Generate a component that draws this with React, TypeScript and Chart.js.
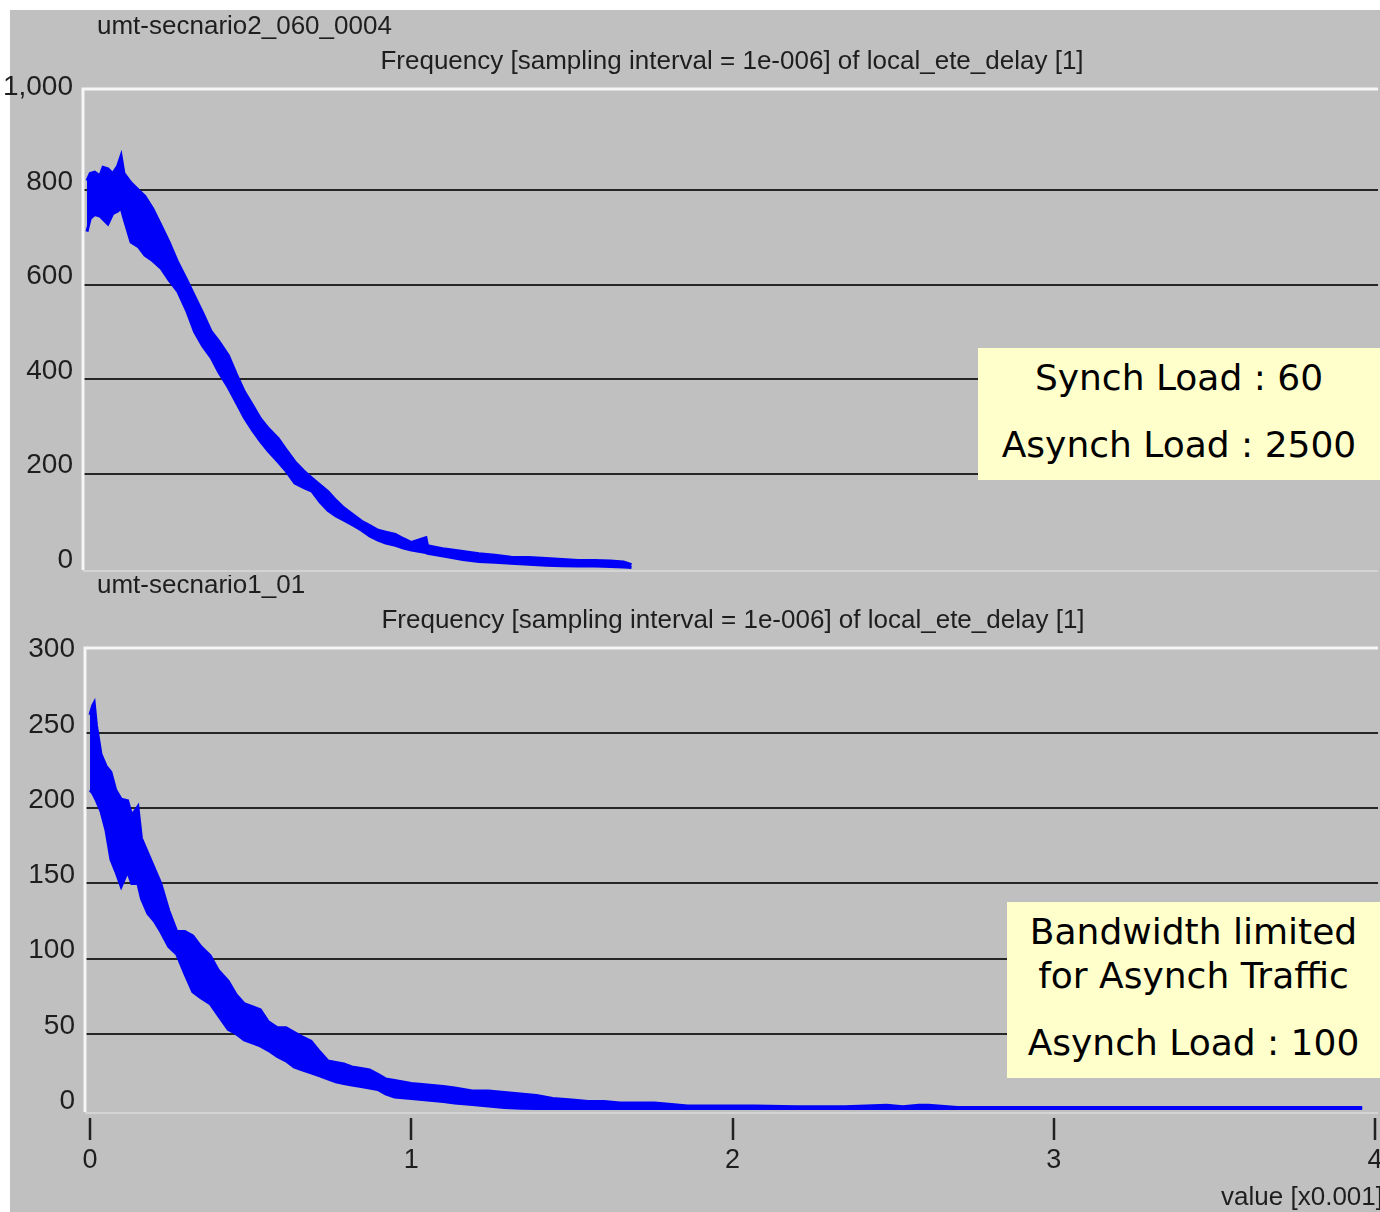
import React, { useEffect, useRef } from 'react';
import { Chart, registerables } from 'chart.js';

Chart.register(...registerables);

// ---- texts ----
const topTitle = 'umt-secnario2_060_0004';
const bottomTitle = 'umt-secnario1_01';
const subtitleText = 'Frequency [sampling interval = 1e-006] of local_ete_delay [1]';
const xAxisLabel = 'value [x0.001]';
const topNote = ['Synch Load : 60', 'Asynch Load : 2500'];
const bottomNote = ['Bandwidth limited', 'for Asynch Traffic', 'Asynch Load : 100'];

// ---- tick labels ----
const topYTicks = [0, 200, 400, 600, 800, 1000];
const bottomYTicks = [0, 50, 100, 150, 200, 250, 300];
const xTicks = [0, 1, 2, 3, 4];

// ---- top panel: envelope of the noisy frequency curve ----
const topX = [0, 0.01, 0.024, 0.04, 0.05, 0.065, 0.08, 0.095, 0.106, 0.115,
  0.137, 0.16, 0.18, 0.205, 0.231, 0.255, 0.283, 0.31, 0.335, 0.36,
  0.387, 0.41, 0.44, 0.465, 0.49, 0.515, 0.54, 0.565, 0.595, 0.62,
  0.647, 0.675, 0.7, 0.725, 0.75, 0.775, 0.8, 0.83, 0.855, 0.88,
  0.906, 0.93, 0.96, 0.985, 1.01, 1.055, 1.06, 1.114, 1.17, 1.22,
  1.27, 1.32, 1.375, 1.43, 1.48, 1.53, 1.58, 1.63, 1.67, 1.695];
const topUpper = [820, 835, 838, 830, 848, 845, 835, 850, 872, 835,
  815, 800, 787, 760, 724, 690, 646, 610, 575, 540,
  500, 480, 450, 410, 373, 345, 316, 295, 274, 250,
  225, 205, 190, 176, 162, 143, 127, 112, 99, 90,
  80, 76, 71, 62, 54, 64, 47, 40, 35, 30,
  27, 23, 22, 20, 18, 16, 16, 15, 13, 7];
const topLower = [712, 740, 748, 745, 738, 728, 750, 755, 762, 740,
  690, 680, 662, 650, 634, 610, 585, 545, 500, 470,
  445, 415, 382, 350, 318, 292, 268, 247, 225, 205,
  180, 170, 163, 140, 122, 110, 101, 90, 80, 68,
  59, 53, 48, 42, 38, 33, 31, 25, 18, 14,
  12, 10, 8, 6, 5, 4, 4, 3, 2, 1];

// ---- bottom panel ----
const bottomX = [0, 0.008, 0.013, 0.02, 0.034, 0.05, 0.065, 0.08, 0.097, 0.117,
  0.13, 0.149, 0.16, 0.18, 0.2, 0.22, 0.245, 0.27, 0.295, 0.32,
  0.345, 0.374, 0.4, 0.43, 0.455, 0.48, 0.505, 0.53, 0.555, 0.583,
  0.61, 0.635, 0.66, 0.688, 0.715, 0.74, 0.765, 0.79, 0.815, 0.844,
  0.87, 0.896, 0.92, 0.948, 1.0, 1.05, 1.1, 1.135, 1.19, 1.24,
  1.29, 1.34, 1.39, 1.44, 1.5, 1.55, 1.6, 1.65, 1.7, 1.757,
  1.81, 1.86, 1.92, 1.966, 2.07, 2.2, 2.35, 2.48, 2.53, 2.58,
  2.61, 2.7, 3.0, 3.5, 3.96];
const bottomUpper = [262, 268, 270, 255, 236, 228, 224, 212, 206, 205,
  195, 201, 180, 170, 160, 150, 132, 118, 118, 115,
  108, 102, 92, 85, 76, 70, 68, 66, 58, 54,
  54, 51, 48, 45, 38, 32, 31, 30, 28, 27,
  26, 23, 20, 19, 17, 16, 15, 14, 12, 12,
  11, 10, 9, 7, 6, 5, 5, 4, 4, 4,
  3, 2, 2, 2, 2, 1.5, 1.5, 2.5, 1.5, 2.5,
  2.5, 1, 1, 1, 1];
const bottomLower = [212, 210, 208, 205, 198, 185, 166, 158, 148, 158,
  150, 150, 140, 130, 125, 118, 108, 103, 90, 78,
  74, 70, 62, 53, 50, 46, 44, 42, 39, 35,
  32, 28, 26, 24, 22, 20, 18, 17, 16, 15,
  14, 13, 10, 8, 7, 6, 5, 4, 3, 2,
  1, 0.5, 0.3, 0.3, 0.3, 0.3, 0.3, 0.3, 0.3, 0.3,
  0.3, 0.3, 0.3, 0.3, 0.3, 0.3, 0.3, 0.3, 0.3, 0.3,
  0.3, 0.3, 0.3, 0.3, 0.3];

const BLUE = '#0000f8';
const TEXT = '#1e1e1e';
const LABEL_FONT = '"Liberation Sans", Arial, sans-serif';

type PanelCfg = {
  left: number; top: number; width: number; height: number;
  xs: number[]; upper: number[]; lower: number[];
  xMin: number; xMax: number; yMin: number; yMax: number;
  yTicks: number[]; yWidth: number; padTop: number; padBottom: number;
  showX: boolean; title: string; titleX: number; titleY: number; subX: number; subY: number;
};

function makeDecor(cfg: PanelCfg) {
  return {
    id: 'decor',
    beforeDatasetsDraw(chart: any) {
      const { ctx, chartArea: a } = chart;
      ctx.save();
      ctx.strokeStyle = '#d4d4d4';
      ctx.lineWidth = 2;
      ctx.beginPath();
      ctx.moveTo(a.left, a.bottom + 1);
      ctx.lineTo(a.right, a.bottom + 1);
      ctx.stroke();
      ctx.strokeStyle = '#f6f6f6';
      ctx.lineWidth = 3;
      ctx.beginPath();
      ctx.moveTo(a.left, a.bottom);
      ctx.lineTo(a.left, a.top);
      ctx.lineTo(a.right, a.top);
      ctx.stroke();
      ctx.restore();
    },
    afterDraw(chart: any) {
      const { ctx } = chart;
      ctx.save();
      ctx.fillStyle = TEXT;
      ctx.textBaseline = 'middle';
      ctx.font = `26px ${LABEL_FONT}`;
      ctx.textAlign = 'left';
      ctx.fillText(cfg.title, cfg.titleX, cfg.titleY);
      ctx.textAlign = 'center';
      ctx.fillText(subtitleText, cfg.subX, cfg.subY);
      if (cfg.showX) {
        const xs = chart.scales.x;
        const a = chart.chartArea;
        ctx.strokeStyle = '#222';
        ctx.lineWidth = 2.5;
        for (const v of xTicks) {
          const px = Math.round(xs.getPixelForValue(v));
          ctx.beginPath();
          ctx.moveTo(px, a.bottom + 6);
          ctx.lineTo(px, a.bottom + 28);
          ctx.stroke();
        }
        ctx.textAlign = 'right';
        ctx.fillText(xAxisLabel, 1373, 623);
      }
      ctx.restore();
    },
  };
}

function Panel({ cfg }: { cfg: PanelCfg }) {
  const ref = useRef<HTMLCanvasElement | null>(null);
  useEffect(() => {
    if (!ref.current) return;
    const lo = cfg.yTicks[0];
    const hi = cfg.yTicks[cfg.yTicks.length - 1];
    const chart = new Chart(ref.current, {
      type: 'line',
      data: {
        datasets: [
          {
            data: cfg.xs.map((x, i) => ({ x, y: cfg.upper[i] })),
            borderColor: BLUE,
            backgroundColor: BLUE,
            borderWidth: 3,
            pointRadius: 0,
            tension: 0,
            fill: '+1',
          },
          {
            data: cfg.xs.map((x, i) => ({ x, y: cfg.lower[i] })),
            borderColor: BLUE,
            backgroundColor: BLUE,
            borderWidth: 3,
            pointRadius: 0,
            tension: 0,
            fill: false,
          },
        ],
      },
      options: {
        responsive: false,
        animation: false,
        layout: { padding: { top: cfg.padTop, right: 2, left: 0, bottom: cfg.padBottom } },
        plugins: {
          legend: { display: false },
          tooltip: { enabled: false },
          title: { display: false },
        },
        scales: {
          x: {
            type: 'linear',
            min: cfg.xMin,
            max: cfg.xMax,
            display: cfg.showX,
            grid: { display: false, drawTicks: false },
            border: { display: false },
            ticks: {
              autoSkip: false,
              maxRotation: 0,
              padding: 32,
              color: TEXT,
              font: { family: LABEL_FONT, size: 27 },
            },
            afterBuildTicks: (s: any) => { s.ticks = xTicks.map((v) => ({ value: v })); },
            afterFit: (s: any) => {
              s.height = cfg.showX ? 100 : 0;
              s.paddingLeft = 0; s.paddingRight = 0; s.paddingTop = 0; s.paddingBottom = 0;
            },
          },
          y: {
            type: 'linear',
            min: cfg.yMin,
            max: cfg.yMax,
            grid: {
              drawTicks: false,
              lineWidth: 2,
              color: (c: any) => {
                const v = c.tick ? c.tick.value : 0;
                return v > lo && v < hi ? '#262626' : 'rgba(0,0,0,0)';
              },
            },
            border: { display: false },
            ticks: {
              padding: 10,
              labelOffset: -8,
              color: TEXT,
              font: { family: LABEL_FONT, size: 28 },
              callback: (v: any) => Number(v).toLocaleString('en-US'),
            },
            afterBuildTicks: (s: any) => { s.ticks = cfg.yTicks.map((v) => ({ value: v })); },
            afterFit: (s: any) => { s.width = cfg.yWidth; s.paddingTop = 0; s.paddingBottom = 0; },
          },
        },
      },
      plugins: [makeDecor(cfg)],
    } as any);
    return () => chart.destroy();
  }, [cfg]);
  return (
    <canvas
      ref={ref}
      width={cfg.width}
      height={cfg.height}
      style={{ position: 'absolute', left: cfg.left, top: cfg.top, width: cfg.width, height: cfg.height }}
    />
  );
}

const topCfg: PanelCfg = {
  left: 0, top: 10, width: 1380, height: 565,
  xs: topX, upper: topUpper, lower: topLower,
  xMin: -0.0125, xMax: 4.019, yMin: -4, yMax: 1013.8,
  yTicks: topYTicks, yWidth: 83, padTop: 79, padBottom: 5.1,
  showX: false, title: topTitle, titleX: 97, titleY: 17, subX: 732, subY: 52,
};

const bottomCfg: PanelCfg = {
  left: 10, top: 575, width: 1370, height: 637,
  xs: bottomX, upper: bottomUpper, lower: bottomLower,
  xMin: -0.0156, xMax: 4.0093, yMin: -2, yMax: 306.5,
  yTicks: bottomYTicks, yWidth: 75, padTop: 73, padBottom: 0,
  showX: true, title: bottomTitle, titleX: 87, titleY: 11, subX: 723, subY: 46,
};

function NoteBox({ left, top, width, height, lines, centers }: {
  left: number; top: number; width: number; height: number; lines: string[]; centers: number[];
}) {
  return (
    <div style={{ position: 'absolute', left, top, width, height, background: '#ffffcc' }}>
      {lines.map((t, i) => (
        <div
          key={i}
          style={{
            position: 'absolute', left: 0, width: '100%', top: centers[i] - 21, height: 42,
            lineHeight: '42px', textAlign: 'center', whiteSpace: 'nowrap',
            fontFamily: '"DejaVu Sans", Verdana, sans-serif', fontSize: 36, color: '#000',
          }}
        >
          {t}
        </div>
      ))}
    </div>
  );
}

export default function App() {
  useEffect(() => {
    document.body.style.overflow = 'hidden';
  }, []);
  return (
    <div>
      <div style={{ position: 'absolute', left: 10, top: 10, width: 1370, height: 1202, background: '#c0c0c0' }} />
      <Panel cfg={topCfg} />
      <Panel cfg={bottomCfg} />
      <NoteBox left={978} top={348} width={402} height={132} lines={topNote} centers={[30, 97]} />
      <NoteBox left={1007} top={902} width={373} height={176} lines={bottomNote} centers={[30, 74, 141]} />
    </div>
  );
}
